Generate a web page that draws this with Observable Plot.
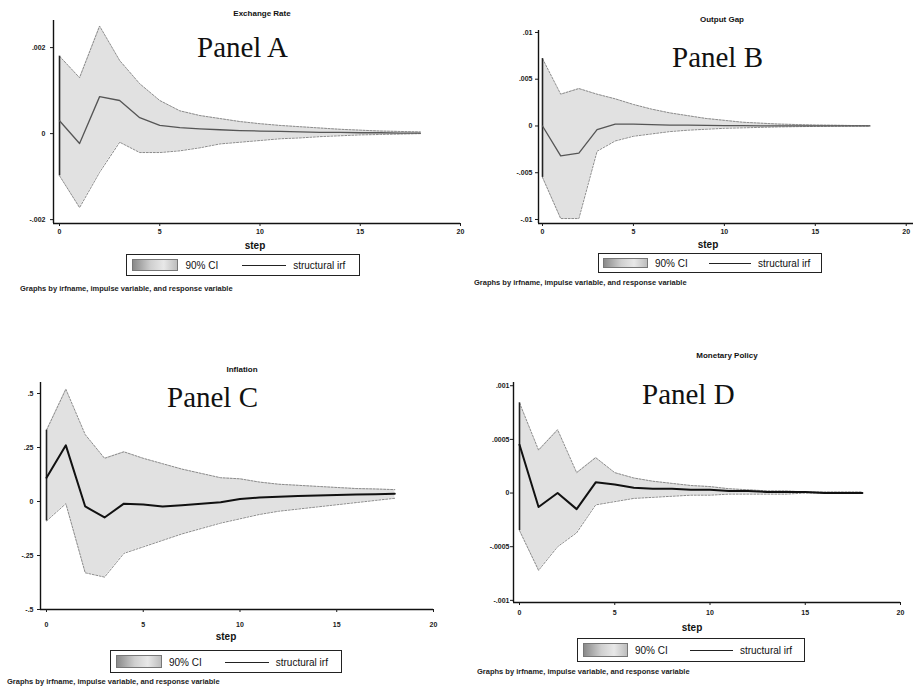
<!DOCTYPE html>
<html><head><meta charset="utf-8">
<script src="https://cdn.jsdelivr.net/npm/d3@7"></script>
<script src="https://cdn.jsdelivr.net/npm/@observablehq/plot@0.6"></script>
<style>
body{margin:0;background:#fff;}
#page{position:relative;width:913px;height:694px;overflow:hidden;font-family:"Liberation Sans",Arial,sans-serif;background:#fff;}
#page svg{position:absolute;overflow:visible;}
.t{position:absolute;white-space:nowrap;color:#111;line-height:1;}
.title{font-size:8px;font-weight:bold;transform:translate(-50%,-50%);}
.panel{font-family:"Liberation Serif","Times New Roman",serif;font-size:29px;color:#111;}
.step{font-size:10px;font-weight:bold;transform:translate(-50%,-50%);}
.cap{font-size:7.5px;font-weight:bold;color:#222;transform:translateY(-50%);}
.leg{position:absolute;border:1.5px solid #222;box-sizing:border-box;background:#fff;}
.leg .sw{position:absolute;top:4px;bottom:4px;background:linear-gradient(90deg,#8a8a8a,#cfcfcf 40%,#e8e8e8 70%,#bdbdbd);border:1px solid #777;}
.leg .ln{position:absolute;top:50%;height:0;border-top:1.2px solid #222;}
.leg span{position:absolute;top:50%;transform:translateY(-50%);font-size:10px;color:#111;}
</style></head><body><div id="page"></div>
<script>
const steps = [0,1,2,3,4,5,6,7,8,9,10,11,12,13,14,15,16,17,18];
const xTicks = [0,5,10,15,20];

// Panel A: Exchange Rate
const irfA = [0.0003,-0.00023,0.00086,0.00077,0.00037,0.00019,0.00014,0.00011,0.00009,0.00007,0.00006,0.00005,0.00004,0.00003,0.00003,0.00002,0.00002,0.00001,0.00001];
const hiA  = [0.0018,0.0013,0.0025,0.0017,0.00116,0.00077,0.00053,0.00042,0.00035,0.00028,0.00023,0.00019,0.00016,0.00013,0.0001,0.00008,0.00006,0.00005,0.00004];
const loA  = [-0.00098,-0.00172,-0.0009,-0.0002,-0.00044,-0.00044,-0.0004,-0.00033,-0.00024,-0.0002,-0.00016,-0.00012,-0.0001,-0.00007,-0.00005,-0.00003,-0.00002,-0.00001,0];
const yTicksA = [-0.002,0,0.002];
const yLabelsA = ["-.002","0",".002"];

// Panel B: Output Gap
const irfB = [0,-0.0032,-0.0029,-0.0004,0.0002,0.0002,0.00015,0.0001,0.00008,0.00006,0.00004,0.00003,0.00002,0.00002,0.00001,0.00001,0.00001,0,0];
const hiB  = [0.0072,0.0034,0.004,0.0034,0.0029,0.0023,0.0018,0.0014,0.0011,0.0008,0.0006,0.0004,0.0003,0.0002,0.00015,0.0001,0.00008,0.00005,0.00003];
const loB  = [-0.0055,-0.0099,-0.0099,-0.0027,-0.0016,-0.0011,-0.00085,-0.0006,-0.00045,-0.00035,-0.00025,-0.0002,-0.00015,-0.0001,-0.00007,-0.00005,-0.00003,-0.00002,-0.00001];
const yTicksB = [-0.01,-0.005,0,0.005,0.01];
const yLabelsB = ["-.01","-.005","0",".005",".01"];

// Panel C: Inflation
const irfC = [0.11,0.26,-0.023,-0.074,-0.01,-0.014,-0.023,-0.017,-0.01,-0.003,0.012,0.018,0.022,0.025,0.028,0.03,0.032,0.034,0.036];
const hiC  = [0.33,0.52,0.31,0.2,0.23,0.2,0.175,0.15,0.13,0.11,0.105,0.09,0.08,0.075,0.07,0.065,0.06,0.058,0.055];
const loC  = [-0.09,-0.01,-0.33,-0.35,-0.24,-0.21,-0.18,-0.15,-0.125,-0.1,-0.08,-0.06,-0.045,-0.035,-0.025,-0.015,-0.005,0.005,0.015];
const yTicksC = [-0.5,-0.25,0,0.25,0.5];
const yLabelsC = ["-.5","-.25","0",".25",".5"];

// Panel D: Monetary Policy
const irfD = [0.00045,-0.00013,0,-0.00015,0.0001,0.00008,0.00005,0.00004,0.00004,0.00003,0.00003,0.00002,0.00002,0.00001,0.00001,0.00001,0,0,0];
const hiD  = [0.00084,0.0004,0.00059,0.00019,0.00033,0.00019,0.00014,0.00011,0.00009,0.00007,0.00006,0.00004,0.00003,0.00002,0.00002,0.00001,0.00001,0.00001,0.00001];
const loD  = [-0.00035,-0.00072,-0.0005,-0.00037,-0.00011,-0.00008,-0.00005,-0.00004,-0.00003,-0.00002,-0.00002,-0.00001,-0.00001,-0.00001,-0.00001,0,0,0,0];
const yTicksD = [-0.001,-0.0005,0,0.0005,0.001];
const yLabelsD = ["-.001","-.0005","0",".0005",".001"];

const titles = ["Exchange Rate","Output Gap","Inflation","Monetary Policy"];
const panelNames = ["Panel A","Panel B","Panel C","Panel D"];
const legendLabels = ["90% CI","structural irf"];
const xLabel = "step";
const caption = "Graphs by irfname, impulse variable, and response variable";

const page = document.getElementById("page");

function makePanel(cfg){
  const data = steps.map((s,i)=>({step:s, irf:cfg.irf[i], lo:cfg.lo[i], hi:cfg.hi[i]}));
  const svg = Plot.plot({
    width: cfg.w, height: cfg.h,
    marginLeft: cfg.mL, marginRight: cfg.mR, marginTop: cfg.mT, marginBottom: cfg.mB,
    x: {domain: cfg.xDom},
    y: {domain: cfg.yDom},
    style: {fontFamily: '"Liberation Sans", Arial, sans-serif', fontSize: "7px", fontWeight: "bold", color: "#1a1a1a", background: "transparent", overflow: "visible"},
    marks: [
      Plot.areaY(data, {x: "step", y1: "lo", y2: "hi", fill: "#dcdcdc", fillOpacity: 0.85}),
      Plot.lineY(data, {x: "step", y: "hi", stroke: "#8c8c8c", strokeWidth: 1, strokeDasharray: "2,1.5"}),
      Plot.lineY(data, {x: "step", y: "lo", stroke: "#8c8c8c", strokeWidth: 1, strokeDasharray: "2,1.5"}),
      Plot.ruleX(data.filter(d => d.step === 0), {x: "step", y1: "lo", y2: "hi", stroke: "#222", strokeWidth: 1.6}),
      Plot.lineY(data, {x: "step", y: "irf", stroke: cfg.irfColor, strokeWidth: cfg.irfWidth}),
      Plot.ruleX([cfg.xDom[0]], {stroke: "#111", strokeWidth: 1.4}),
      Plot.ruleY([cfg.yDom[0]], {stroke: "#111", strokeWidth: 1.4}),
      Plot.axisX({ticks: xTicks, tickSize: 3, tickPadding: cfg.xPad, label: null, fill: "#1a1a1a"}),
      Plot.axisY({ticks: cfg.yTicks, tickSize: 3, tickPadding: cfg.yPad, label: null, fill: "#1a1a1a",
        tickFormat: d => cfg.yLabels[cfg.yTicks.indexOf(d)]})
    ]
  });
  svg.style.left = cfg.left + "px";
  svg.style.top = cfg.top + "px";
  page.appendChild(svg);

  const add = (cls, text, x, y) => {
    const el = document.createElement("div");
    el.className = "t " + cls;
    el.textContent = text;
    el.style.left = x + "px";
    el.style.top = y + "px";
    page.appendChild(el);
    return el;
  };
  add("title", cfg.title, cfg.titleX, cfg.titleY);
  add("panel", cfg.name, cfg.nameX, cfg.nameY);
  add("step", xLabel, cfg.stepX, cfg.stepY);
  add("cap", caption, cfg.capX, cfg.capY);

  const L = cfg.leg;
  const leg = document.createElement("div");
  leg.className = "leg";
  leg.style.left = L.x + "px"; leg.style.top = L.y + "px";
  leg.style.width = L.w + "px"; leg.style.height = L.h + "px";
  const w = L.w;
  leg.innerHTML =
    `<div class="sw" style="left:${w*0.02}px;width:${w*0.19}px"></div>` +
    `<span style="left:${w*0.25}px">${legendLabels[0]}</span>` +
    `<div class="ln" style="left:${w*0.49}px;width:${w*0.19}px"></div>` +
    `<span style="left:${w*0.71}px">${legendLabels[1]}</span>`;
  page.appendChild(leg);
}

makePanel({left:0, top:0, w:460, h:240, mL:53, mR:0, mT:20, mB:17,
  xDom:[-0.3,20], yDom:[-0.00209,0.00263], yTicks:yTicksA, yLabels:yLabelsA,
  irf:irfA, lo:loA, hi:hiA, irfColor:"#555", irfWidth:1.3, xPad:3, yPad:5,
  title:titles[0], titleX:262, titleY:14, name:panelNames[0], nameX:197, nameY:33,
  stepX:255, stepY:246, capX:20, capY:289, leg:{x:126, y:254, w:234, h:22}});

makePanel({left:460, top:0, w:453, h:240, mL:78, mR:0, mT:30, mB:17,
  xDom:[-0.22,20.4], yDom:[-0.01043,0.01021], yTicks:yTicksB, yLabels:yLabelsB,
  irf:irfB, lo:loB, hi:hiB, irfColor:"#555", irfWidth:1.3, xPad:3, yPad:3,
  title:titles[1], titleX:722, titleY:20, name:panelNames[1], nameX:672, nameY:43,
  stepX:708, stepY:245, capX:474, capY:283, leg:{x:598, y:253, w:224, h:20}});

makePanel({left:0, top:360, w:460, h:275, mL:40, mR:27, mT:22, mB:26,
  xDom:[-0.31,20], yDom:[-0.5,0.551], yTicks:yTicksC, yLabels:yLabelsC,
  irf:irfC, lo:loC, hi:hiC, irfColor:"#111", irfWidth:2, xPad:10, yPad:4,
  title:titles[2], titleX:242, titleY:370, name:panelNames[2], nameX:167, nameY:383,
  stepX:226, stepY:637, capX:7, capY:682, leg:{x:110, y:650, w:232, h:23}});

makePanel({left:460, top:360, w:453, h:260, mL:53, mR:13, mT:22, mB:18,
  xDom:[-0.315,20], yDom:[-0.00102,0.00103], yTicks:yTicksD, yLabels:yLabelsD,
  irf:irfD, lo:loD, hi:hiD, irfColor:"#111", irfWidth:2, xPad:5, yPad:1,
  title:titles[3], titleX:727, titleY:356, name:panelNames[3], nameX:642, nameY:380,
  stepX:692, stepY:628, capX:477, capY:672, leg:{x:577, y:638, w:228, h:24}});
</script></body></html>
